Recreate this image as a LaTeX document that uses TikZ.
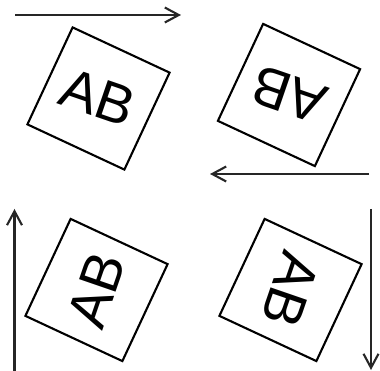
\documentclass[tikz,border=0pt]{standalone}
\usepackage{fontspec}
\setmainfont{Liberation Sans}
\usetikzlibrary{arrows.meta}
\tikzset{
  frame/.style={draw=black, line width=2.1pt},
  letters/.style={font=\fontsize{56}{60}\selectfont, inner sep=0pt},
  dir/.style={draw=black!85, line width=2.1pt, -{Straight Barb[length=14pt,width=15pt]}}
}
\begin{document}
\begin{tikzpicture}[x=1pt,y=-1pt]
    \useasboundingbox (0,0) rectangle (380,371);

    % Top left: reads left to right
    \draw[frame, shift={(98.5,98.5)}, rotate=-25] (-53.5,-53.5) rectangle (53.5,53.5);
    \node[letters, rotate=-19] (texttl) at (98,97.5) {AB};
    \coordinate (tlstart) at (15,15);
    \coordinate (tlend) at (181,15);
    \draw[dir] (tlstart) -- (tlend);

    % Top right: upside down
    \draw[frame, shift={(289,95)}, rotate=-25] (-53.5,-53.5) rectangle (53.5,53.5);
    \node[letters, rotate=161] (texttr) at (289,95) {AB};
    \coordinate (trstart) at (369,174);
    \coordinate (trend) at (210,174);
    \draw[dir] (trstart) -- (trend);

    % Bottom left: reads upwards
    \draw[frame, shift={(96.5,290)}, rotate=-25] (-53.5,-53.5) rectangle (53.5,53.5);
    \node[letters, rotate=71] (textbl) at (96.5,290) {AB};
    \coordinate (blstart) at (14.5,371);
    \coordinate (blend) at (14.5,209);
    \draw[dir] (blstart) -- (blend);

    % Bottom right: reads downwards
    \draw[frame, shift={(290.5,290)}, rotate=-25] (-53.5,-53.5) rectangle (53.5,53.5);
    \node[letters, rotate=-109] (textbr) at (290.5,290) {AB};
    \coordinate (brstart) at (371,209);
    \coordinate (brend) at (371,370);
    \draw[dir] (brstart) -- (brend);
\end{tikzpicture}
\end{document}
